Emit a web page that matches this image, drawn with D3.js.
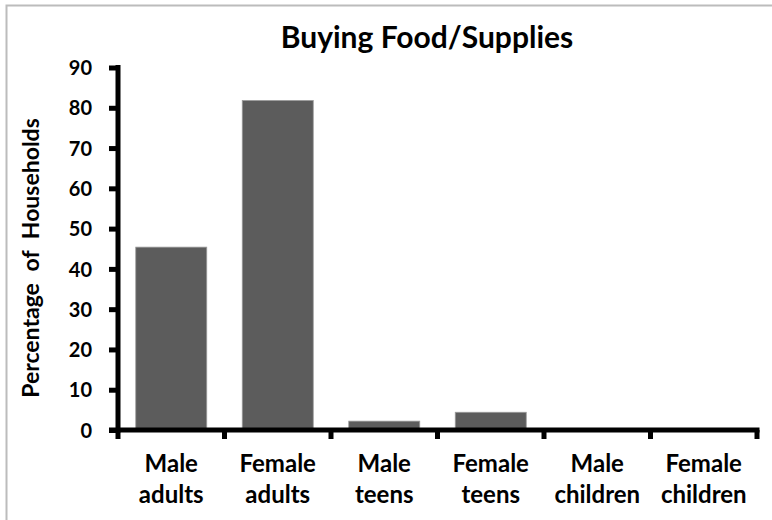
<!DOCTYPE html>
<html>
<head>
<meta charset="utf-8">
<script src="https://cdn.jsdelivr.net/npm/d3@7"></script>
<style>
  body { margin: 0; background: #fff; }
  text { font-family: Lato, "Open Sans", sans-serif; font-weight: bold; fill: #000; }
</style>
</head>
<body>
<div id="chart"></div>
<script>
// data
const categories = ['Male adults', 'Female adults', 'Male teens', 'Female teens', 'Male children', 'Female children'];
const values = [45.4, 81.8, 2.2, 4.4, 0, 0];
const yTicks = [0, 10, 20, 30, 40, 50, 60, 70, 80, 90];

const W = 772, H = 520;

const svg = d3.select('#chart').append('svg')
  .attr('width', W)
  .attr('height', H);

// kader om de grafiek (loopt buiten het beeld door)
svg.append('rect')
  .attr('x', 6.5).attr('y', 5.5)
  .attr('width', W).attr('height', H)
  .attr('fill', 'none')
  .attr('stroke', '#bcbcbc')
  .attr('stroke-width', 2);

const x = d3.scaleBand()
  .domain(categories)
  .range([118, 757])
  .paddingInner(1 / 3)
  .paddingOuter(1 / 6);

const y = d3.scaleLinear()
  .domain([0, 90])
  .range([430, 67.5]);

// bars
svg.append('g').selectAll('rect')
  .data(values)
  .join('rect')
  .attr('x', (d, i) => x(categories[i]))
  .attr('y', d => y(d))
  .attr('width', x.bandwidth())
  .attr('height', d => y(0) - y(d))
  .attr('fill', '#5c5c5c')
  .attr('stroke', '#9a9a9a')
  .attr('stroke-width', 0.8);

// y as
const yAxis = d3.axisLeft(y).tickValues(yTicks).tickSize(9).tickPadding(17);
const gy = svg.append('g')
  .attr('transform', 'translate(118,0)')
  .call(yAxis);
gy.select('.domain').remove();
gy.selectAll('.tick line').attr('stroke', '#000').attr('stroke-width', 5);
gy.selectAll('.tick text')
  .attr('font-size', 20)
  .attr('dy', '0.36em')
  .style('font-family', 'Lato, sans-serif')
  .style('font-weight', 'bold');
svg.append('line')
  .attr('x1', 118).attr('x2', 118)
  .attr('y1', 65).attr('y2', 432.5)
  .attr('stroke', '#000').attr('stroke-width', 5);

// x as: ticks op de grenzen tussen categorieen
const step = x.step();
const bounds = d3.range(categories.length + 1).map(i => 118 + i * step);
svg.append('g').selectAll('line')
  .data(bounds)
  .join('line')
  .attr('x1', d => d).attr('x2', d => d)
  .attr('y1', 430).attr('y2', 439)
  .attr('stroke', '#000').attr('stroke-width', 5);
svg.append('line')
  .attr('x1', 109).attr('x2', 759.5)
  .attr('y1', 430).attr('y2', 430)
  .attr('stroke', '#000').attr('stroke-width', 5);

// categorie labels op twee regels
const lab = svg.append('g').selectAll('text')
  .data(categories)
  .join('text')
  .attr('text-anchor', 'middle')
  .attr('font-size', 24)
  .attr('x', d => x(d) + x.bandwidth() / 2);
lab.each(function (d) {
  const parts = d.split(' ');
  const t = d3.select(this);
  parts.forEach((p, i) => {
    t.append('tspan')
      .attr('x', x(d) + x.bandwidth() / 2)
      .attr('y', 472 + i * 31)
      .text(p);
  });
});

// titel
svg.append('text')
  .attr('x', 427).attr('y', 48)
  .attr('text-anchor', 'middle')
  .attr('font-size', 30)
  .text('Buying Food/Supplies');

// as titel
svg.append('text')
  .attr('transform', 'translate(39,258) rotate(-90)')
  .attr('text-anchor', 'middle')
  .attr('font-size', 23)
  .style('word-spacing', '6px')
  .text('Percentage of Households');
</script>
</body>
</html>
